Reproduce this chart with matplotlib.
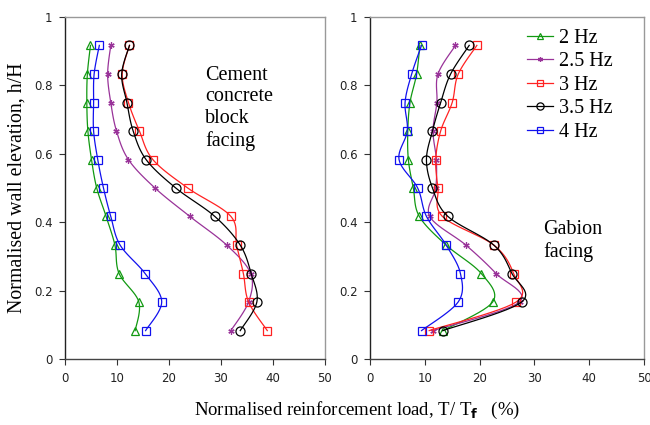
import numpy as np
import matplotlib
matplotlib.use("Agg")
import matplotlib.pyplot as plt

# normalised elevation of each reinforcement layer (top to bottom)
h_H = [0.917, 0.833, 0.75, 0.667, 0.583, 0.5, 0.417, 0.333, 0.25, 0.167, 0.083]

labels = ["2 Hz", "2.5 Hz", "3 Hz", "3.5 Hz", "4 Hz"]

# cement concrete block facing, T/Tf (%)
block_2 = [4.9, 4.3, 4.2, 4.4, 5.1, 6.1, 7.9, 9.6, 10.4, 14.2, 13.5]
block_25 = [8.8, 8.2, 8.8, 9.9, 12.2, 17.3, 24.0, 31.1, 35.7, 35.3, 31.9]
block_3 = [12.4, 11.0, 12.2, 14.3, 16.9, 23.6, 31.9, 33.0, 34.3, 35.3, 38.9]
block_35 = [12.4, 10.9, 11.9, 13.1, 15.6, 21.3, 28.8, 33.7, 35.8, 36.9, 33.7]
block_4 = [6.6, 5.6, 5.5, 5.5, 6.3, 7.4, 8.8, 10.6, 15.4, 18.6, 15.5]

# gabion facing, T/Tf (%)
gabion_2 = [9.1, 8.5, 7.3, 6.9, 7.0, 7.9, 9.0, 13.9, 20.3, 22.4, 13.3]
gabion_25 = [15.6, 12.4, 12.2, 11.5, 12.1, 12.0, 10.9, 17.5, 23.0, 27.3, 11.5]
gabion_3 = [19.5, 16.1, 15.0, 12.9, 12.0, 12.4, 13.2, 22.6, 26.2, 26.7, 10.8]
gabion_35 = [18.1, 14.7, 12.9, 11.4, 10.3, 11.4, 14.2, 22.6, 25.9, 27.7, 13.3]
gabion_4 = [9.4, 7.6, 6.4, 6.8, 5.3, 8.7, 10.3, 13.9, 16.5, 16.1, 9.4]

colors = ["#119911", "#993399", "#ff2222", "#000000", "#1111ee"]
markers = ["^", (6, 2, 0), "s", "o", "s"]
sizes = [6, 4.5, 6, 6.5, 6]

plt.rcParams["font.family"] = ["Liberation Serif", "DejaVu Serif"]
plt.rcParams["mathtext.fontset"] = "dejavusans"


def smooth(x, y, n=12):
    # Catmull-Rom curve through the points, like a spreadsheet "smoothed line"
    p = np.column_stack([x, y])
    p = np.vstack([p[0], p, p[-1]])
    out = []
    t = np.linspace(0, 1, n, endpoint=False)[:, None]
    for i in range(1, len(p) - 2):
        p0, p1, p2, p3 = p[i - 1], p[i], p[i + 1], p[i + 2]
        seg = 0.5 * ((2 * p1) + (-p0 + p2) * t + (2 * p0 - 5 * p1 + 4 * p2 - p3) * t ** 2
                     + (-p0 + 3 * p1 - 3 * p2 + p3) * t ** 3)
        out.append(seg)
    out.append(p[-2][None, :])
    out = np.vstack(out)
    return out[:, 0], out[:, 1]


def panel(ax, series):
    for vals, c, m, ms, lab in zip(series, colors, markers, sizes, labels):
        sx, sy = smooth(vals, h_H)
        ax.plot(sx, sy, color=c, lw=0.9)
        ax.plot(vals, h_H, ls="none", marker=m, color=c, mfc="none", mec=c,
                ms=ms, mew=0.9)
        ax.plot([], [], color=c, lw=0.9, marker=m, mfc="none", mec=c,
                ms=ms * 0.8, mew=0.9, label=lab)
    ax.set_xlim(0, 50)
    ax.set_ylim(0, 1)
    ax.set_xticks([0, 10, 20, 30, 40, 50])
    ax.set_yticks([0, 0.2, 0.4, 0.6, 0.8, 1])
    ax.set_yticklabels(["0", "0.2", "0.4", "0.6", "0.8", "1"])
    ax.tick_params(direction="out", length=4, width=0.8, color="#333333",
                   labelsize=8.5, pad=5)
    for lab in ax.get_xticklabels() + ax.get_yticklabels():
        lab.set_fontfamily("DejaVu Sans")
        lab.set_color("#222222")
    ax.spines["left"].set_color("#222222")
    ax.spines["bottom"].set_color("#444444")
    ax.spines["top"].set_color("#999999")
    ax.spines["right"].set_color("#999999")
    for s in ax.spines.values():
        s.set_linewidth(1.0)


fig = plt.figure(figsize=(6.5, 4.25), dpi=100)
ax1 = fig.add_axes([65 / 650, 1 - 359 / 425, 260 / 650, 342 / 425])
ax2 = fig.add_axes([370 / 650, 1 - 359 / 425, 274 / 650, 342 / 425])

panel(ax1, [block_2, block_25, block_3, block_35, block_4])
panel(ax2, [gabion_2, gabion_25, gabion_3, gabion_35, gabion_4])

ax1.set_ylabel("Normalised wall elevation, h/H", fontsize=14.3, labelpad=5)
ax1.text(27.0, 0.858, "Cement\nconcrete\nblock\nfacing", fontsize=14.5,
         va="top", ha="left", linespacing=1.2)
ax2.text(31.6, 0.405, "Gabion\nfacing", fontsize=14.5, va="top", ha="left",
         linespacing=1.15)

ax2.legend(loc="upper left", bbox_to_anchor=(0.542, 0.99), frameon=False,
           fontsize=14.5, handlelength=1.3, handletextpad=0.3,
           labelspacing=0.22, borderaxespad=0)

fig.text(357 / 650, 1 - 410 / 425, r"Normalised reinforcement load, T/ T$_{\mathbf{f}}$   (%)",
         fontsize=13.5, ha="center", va="center")

fig.savefig("out.png", dpi=100)
